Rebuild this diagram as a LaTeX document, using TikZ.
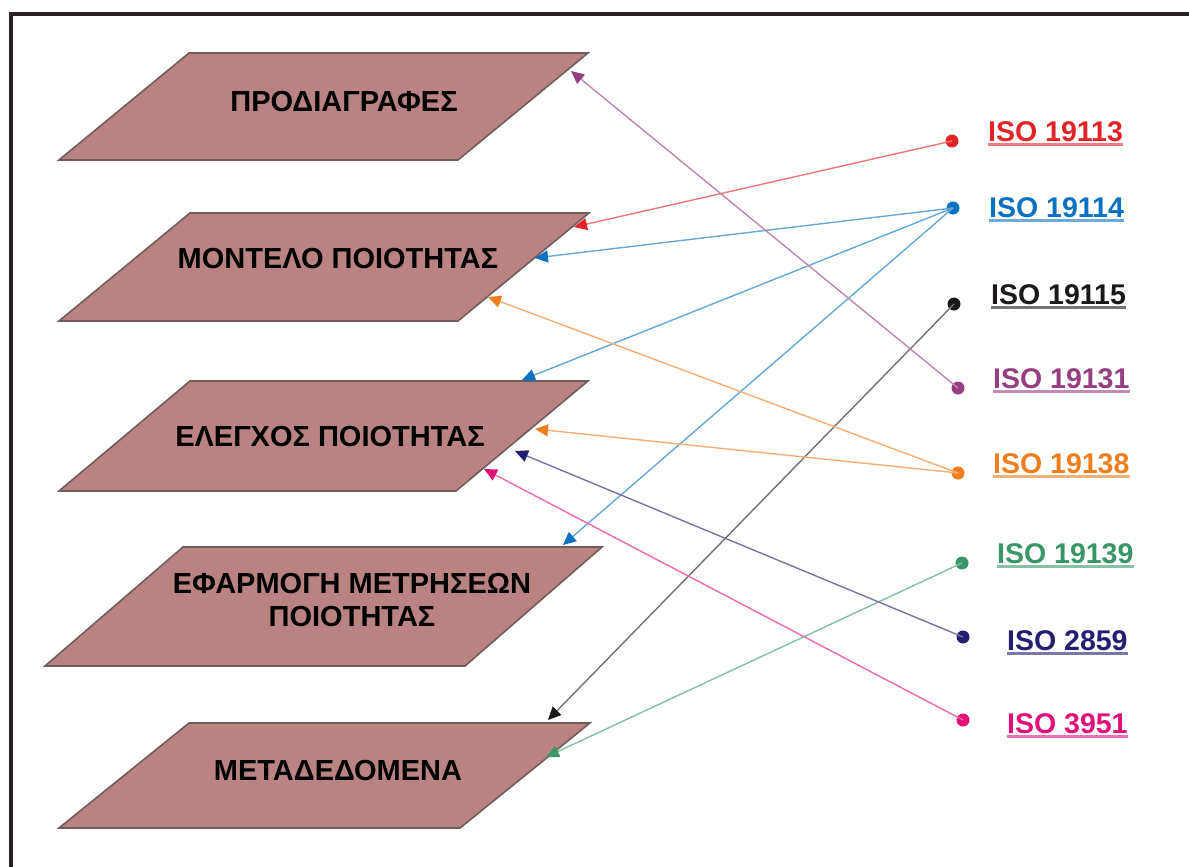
\documentclass[tikz,border=0pt]{standalone}
\usepackage{fontspec}
\setmainfont{Liberation Sans}
\usetikzlibrary{arrows.meta}
\definecolor{layerfill}{RGB}{186,131,131}
\definecolor{layeredge}{RGB}{112,92,92}
\definecolor{framecol}{RGB}{40,34,34}
\definecolor{cred}{RGB}{226,35,40}
\definecolor{cblue}{RGB}{10,114,192}
\definecolor{cblack}{RGB}{28,24,24}
\definecolor{cpurple}{RGB}{150,62,130}
\definecolor{corange}{RGB}{240,125,30}
\definecolor{cgreen}{RGB}{58,150,105}
\definecolor{cnavy}{RGB}{35,30,110}
\definecolor{cmagenta}{RGB}{225,15,120}
\begin{document}
\begin{tikzpicture}[x=1pt,y=-1pt,
  layer/.style={fill=layerfill, draw=layeredge, line width=1.6pt},
  layertext/.style={font=\bfseries\fontsize{29}{33}\selectfont, text=black, align=center, inner sep=0},
  stdlabel/.style={font=\bfseries\fontsize{28.5}{30}\selectfont, anchor=base west, inner sep=0},
  stddot/.style={circle, fill, inner sep=0, minimum size=13pt},
  link/.style={line width=1.4pt, #1!62, -{Triangle[length=13pt,width=12pt,color=#1]}},
]
\path[use as bounding box] (0,0) rectangle (1189,867);

% outer frame
\draw[line width=3.5pt, framecol] (1189,14) -- (11,14) -- (11,867);

% process layers
\filldraw[layer] (189,53) -- (588,53) -- (458,160) -- (59,160) -- cycle;
\node[layertext, anchor=base] (spec) at (344,111) {ΠΡΟΔΙΑΓΡΑΦΕΣ};
\filldraw[layer] (190,213) -- (589,213) -- (458,321) -- (59,321) -- cycle;
\node[layertext, anchor=base] (model) at (338,268) {ΜΟΝΤΕΛΟ ΠΟΙΟΤΗΤΑΣ};
\filldraw[layer] (190,381) -- (588,381) -- (456,491) -- (59,491) -- cycle;
\node[layertext, anchor=base] (check) at (330,446) {ΕΛΕΓΧΟΣ ΠΟΙΟΤΗΤΑΣ};
\filldraw[layer] (183,547) -- (602,547) -- (465,666) -- (45,666) -- cycle;
\node[layertext] (apply) at (352,600) {ΕΦΑΡΜΟΓΗ ΜΕΤΡΗΣΕΩΝ\\ΠΟΙΟΤΗΤΑΣ};
\filldraw[layer] (189,723) -- (590,723) -- (460,828) -- (59,828) -- cycle;
\node[layertext, anchor=base] (meta) at (338,780) {ΜΕΤΑΔΕΔΟΜΕΝΑ};

% arrow targets on the layers
\coordinate (tSpec)    at (571,71);
\coordinate (tModelA)  at (574,227);
\coordinate (tModelB)  at (535,258);
\coordinate (tModelC)  at (488,297);
\coordinate (tCheckA)  at (522,380);
\coordinate (tCheckB)  at (535,429);
\coordinate (tCheckC)  at (515,451);
\coordinate (tCheckD)  at (484,469);
\coordinate (tApply)   at (563,545);
\coordinate (tMetaA)   at (548,720);
\coordinate (tMetaB)   at (546,757);

% standards: label, underline, dot
\foreach \name/\txt/\col/\lx/\by/\dx/\dy in {
  s13/ISO 19113/cred/988/141/952/141,
  s14/ISO 19114/cblue/989/217/953/208,
  s15/ISO 19115/cblack/991/304/954/304,
  s31/ISO 19131/cpurple/993/388/958/388,
  s38/ISO 19138/corange/993/473/958/473,
  s39/ISO 19139/cgreen/997/563/962/563,
  s59/ISO 2859/cnavy/1007/650/963/637,
  s51/ISO 3951/cmagenta/1007/733/963/720}{
  \node[stdlabel, text=\col] (l\name) at (\lx,\by) {\txt};
  \draw[\col!60, line width=2.6pt] ([yshift=-3.5pt]l\name.base west) -- ([yshift=-3.5pt]l\name.base east);
  \node[stddot, fill=\col] (\name) at (\dx,\dy) {};
}

% connectors
\draw[link=cred]     (s13.center) -- (tModelA);
\draw[link=cblue]    (s14.center) -- (tModelB);
\draw[link=cblue]    (s14.center) -- (tCheckA);
\draw[link=cblue]    (s14.center) -- (tApply);
\draw[link=cblack]   (s15.center) -- (tMetaA);
\draw[link=cpurple]  (s31.center) -- (tSpec);
\draw[link=corange]  (s38.center) -- (tModelC);
\draw[link=corange]  (s38.center) -- (tCheckB);
\draw[link=cgreen]   (s39.center) -- (tMetaB);
\draw[link=cnavy]    (s59.center) -- (tCheckC);
\draw[link=cmagenta] (s51.center) -- (tCheckD);
\end{tikzpicture}
\end{document}
